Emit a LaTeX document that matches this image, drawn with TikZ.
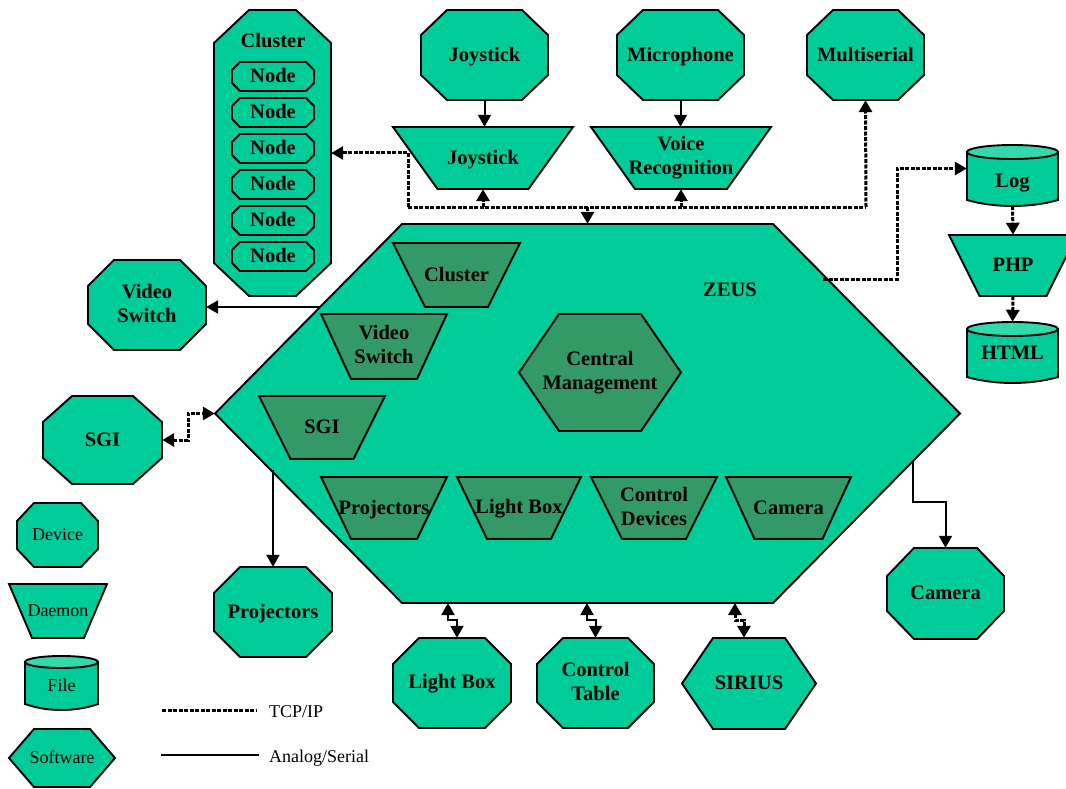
\documentclass[tikz,border=0pt]{standalone}
\usepackage{fontspec}
\setmainfont{Liberation Serif}
\usetikzlibrary{arrows.meta,calc}
\definecolor{dev}{HTML}{00CC99}
\definecolor{dmn}{HTML}{339966}
\definecolor{capc}{HTML}{33D9AA}
\newcommand\lblstrut{\rule[-4pt]{0pt}{20.5pt}}
\newcommand\lgdstrut{\rule[-3.5pt]{0pt}{17.5pt}}
\tikzset{
  shp/.style={draw=black, line width=1.9pt, line join=miter},
  lbl/.style={inner sep=0pt, align=center, font=\fontsize{20.5}{24}\selectfont\bfseries,
    execute at begin node=\lblstrut, execute at end node=\lblstrut},
  lgd/.style={inner sep=0pt, align=center, font=\fontsize{18}{21}\selectfont,
    execute at begin node=\lgdstrut, execute at end node=\lgdstrut},
  serial/.style={draw=black, line width=2pt},
  tcp/.style={draw=black, line width=3pt, dash pattern=on 4pt off 1.5pt},
  tipe/.style={-{Triangle[width=13pt,length=12pt]}},
  tipb/.style={{Triangle[width=13pt,length=12pt]}-{Triangle[width=13pt,length=12pt]}},
}
% octagon: name x1 y1 x2 y2 cutx cuty style text
\newcommand\octshape[9]{%
  \path[shp,fill=dev] ({#2+#6},#3) -- ({#4-#6},#3) -- (#4,{#3+#7}) -- (#4,{#5-#7}) -- ({#4-#6},#5) -- ({#2+#6},#5) -- (#2,{#5-#7}) -- (#2,{#3+#7}) -- cycle;
  \node[#8, minimum width={#4-#2}, minimum height={#5-#3}] (#1) at ({(#2+#4)/2},{(#3+#5)/2}) {#9};
}
% trapezoid (daemon): name cx y1 topw botw h fill style text
\newcommand\dmnshape[9]{%
  \path[shp,fill=#7] ({#2-#4/2},#3) -- ({#2+#4/2},#3) -- ({#2+#5/2},{#3+#6}) -- ({#2-#5/2},{#3+#6}) -- cycle;
  \node[#8, minimum width=#4, minimum height=#6] (#1) at (#2,{#3+#6/2}) {#9};
}
% hexagon (software): name x1 y1 x2 y2 inset fill style text
\newcommand\hexshape[9]{%
  \path[shp,fill=#7] ({#2+#6},#3) -- ({#4-#6},#3) -- (#4,{(#3+#5)/2}) -- ({#4-#6},#5) -- ({#2+#6},#5) -- (#2,{(#3+#5)/2}) -- cycle;
  \node[#8, minimum width={#4-#2}, minimum height={#5-#3}] (#1) at ({(#2+#4)/2},{(#3+#5)/2}) {#9};
}
% file (cylinder): name x1 y1 x2 y2 capry style text textdrop
\newcommand\fileshape[9]{%
  \path[shp,fill=dev] (#2,{#3+#6}) -- (#2,{#5-6}) .. controls ({#2+(#4-#2)*0.3},{#5+2}) and ({#4-(#4-#2)*0.3},{#5+2}) .. (#4,{#5-6}) -- (#4,{#3+#6}) -- cycle;
  \path[shp,fill=capc] ({(#2+#4)/2},{#3+#6}) ellipse [x radius={(#4-#2)/2}, y radius=#6];
  \node[#7, minimum width={#4-#2}, minimum height={#5-#3}] (#1) at ({(#2+#4)/2},{(#3+#5)/2}) {\raisebox{-#9pt}[\height][\depth]{#8}};
}
\begin{document}
\begin{tikzpicture}[x=1pt,y=-1pt]
\useasboundingbox (0,0) rectangle (1066,789);

% ZEUS and its daemons
\hexshape{zeus}{215}{224}{960}{603}{187}{dev}{lbl}{}
\node[lbl] (zeuslbl) at (730,290) {ZEUS};
\dmnshape{icluster}{456.5}{243}{127}{63}{64}{dmn}{lbl}{Cluster}
\dmnshape{ivideo}{384}{314}{126}{66}{65}{dmn}{lbl}{Video\\Switch}
\dmnshape{isgi}{322}{396}{126}{63}{63}{dmn}{lbl}{SGI}
\hexshape{central}{519}{314}{681}{431}{40}{dmn}{lbl}{Central\\Management}
\dmnshape{iproj}{384}{477}{126}{66}{62}{dmn}{lbl}{Projectors}
\dmnshape{ilight}{519}{477}{124}{64}{62}{dmn}{lbl}{Light Box}
\dmnshape{icontrol}{654}{477}{126}{64}{62}{dmn}{lbl}{Control\\Devices}
\dmnshape{icamera}{788.5}{477}{125}{68}{62}{dmn}{lbl}{Camera}

% top row
\octshape{joy}{421}{10}{548}{100}{26}{25}{lbl}{Joystick}
\octshape{mic}{617}{10}{744}{100}{26}{25}{lbl}{Microphone}
\octshape{multi}{807}{10}{924}{100}{26}{25}{lbl}{Multiserial}
\dmnshape{joyd}{483}{127}{180}{91}{62}{dev}{lbl}{Joystick}
\dmnshape{voice}{681}{127}{180}{92}{62}{dev}{lbl}{Voice\\Recognition}

% cluster
\octshape{cluster}{214}{10}{331}{296}{35}{33}{lbl}{}
\node[lbl] (clusterlbl) at (273,41) {Cluster};
\foreach \k in {0,...,5}{%
  \pgfmathsetmacro\ya{62+36*\k}%
  \pgfmathsetmacro\yb{91+36*\k}%
  \octshape{node\k}{232}{\ya}{314}{\yb}{8}{8}{lbl}{Node}
}

% files
\fileshape{log}{967}{145}{1058}{206}{7}{lbl}{Log}{6}
\dmnshape{php}{1013}{235}{128}{67}{61}{dev}{lbl}{PHP}
\fileshape{html}{967}{322}{1058}{383}{7}{lbl}{HTML}{1}

% devices
\octshape{vsw}{88}{260}{206}{350}{26}{26}{lbl}{Video\\Switch}
\octshape{sgi}{43}{396}{162}{484}{29}{26}{lbl}{SGI}
\octshape{proj}{214}{567}{332}{657}{26}{26}{lbl}{Projectors}
\octshape{cam}{887}{548}{1004}{639}{27}{28}{lbl}{Camera}
\octshape{lb}{393}{638}{511}{728}{26}{26}{lbl}{Light Box}
\octshape{ctab}{537}{638}{654}{728}{26}{26}{lbl}{Control\\Table}
\hexshape{sirius}{682}{638}{816}{729}{31}{dev}{lbl}{SIRIUS}

% legend shapes
\octshape{lgdev}{17}{503}{98}{567}{17}{18}{lgd}{Device}
\dmnshape{lgdmn}{58}{584}{98}{52}{54}{dev}{lgd}{Daemon}
\fileshape{lgfile}{25}{656}{98}{710}{6}{lgd}{File}{3.5}
\hexshape{lgsoft}{9}{729}{115}{787}{25}{dev}{lgd}{Software}

% coordinates on the ZEUS border and the network bus
\coordinate (busL) at (408,207);
\coordinate (busR) at (866,207);
\coordinate (zlog) at (823,279);
\coordinate (zvs) at (321,307);
\coordinate (zproj) at (273,470);
\coordinate (zcam) at (913,461);
\coordinate (zlb) at (448,603);
\coordinate (zct) at (587,603);
\coordinate (zsir) at (735,603);

% analog / serial
\draw[serial,tipe] (joy.south) -- (joy.south |- joyd.north);
\draw[serial,tipe] (mic.south) -- (mic.south |- voice.north);
\draw[serial,tipe] (zvs) -- (zvs -| vsw.east);
\draw[serial,tipe] (zproj) -- (zproj |- proj.north);
\draw[serial,tipe] (zcam) -- ++(0,41) -| (cam.north);
\draw[serial,tipb] (zlb) -- ++(0,17) -| ([xshift=5pt]lb.north);
\draw[serial,tipb] (zct) -- ++(0,17) -| (ctab.north);

% TCP/IP
\draw[tcp] (busL) -- (busR);
\draw[tcp,tipe] (busL) |- (cluster.east);
\draw[tcp,tipe] (busR) -- (multi.south);
\draw[tcp,tipe] (joyd.south |- busL) -- (joyd.south);
\draw[tcp,tipe] (voice.south |- busL) -- (voice.south);
\draw[tcp,tipe] (zeus.north |- busL) -- (zeus.north);
\draw[tcp,tipe] (zlog) -- ++(74,0) |- ([yshift=7pt]log.west);
\draw[tcp,tipe] (log.south) -- (php.north);
\draw[tcp,tipe] (php.south) -- (html.north);
\draw[tcp,tipb] (sgi.east) -- ++(26,0) |- (zeus.west);
\draw[tcp,tipb] (zsir) -- ++(0,17) -| ([xshift=-5pt]sirius.north);

% legend lines
\coordinate (t1) at (162,710);
\coordinate (t2) at (257,710);
\coordinate (s1) at (161,755);
\coordinate (s2) at (259,755);
\draw[tcp] (t1) -- (t2);
\draw[serial] (s1) -- (s2);
\node[lgd, anchor=west] (tcplbl) at (269,712) {TCP/IP};
\node[lgd, anchor=west] (seriallbl) at (269,757) {Analog/Serial};
\end{tikzpicture}
\end{document}
